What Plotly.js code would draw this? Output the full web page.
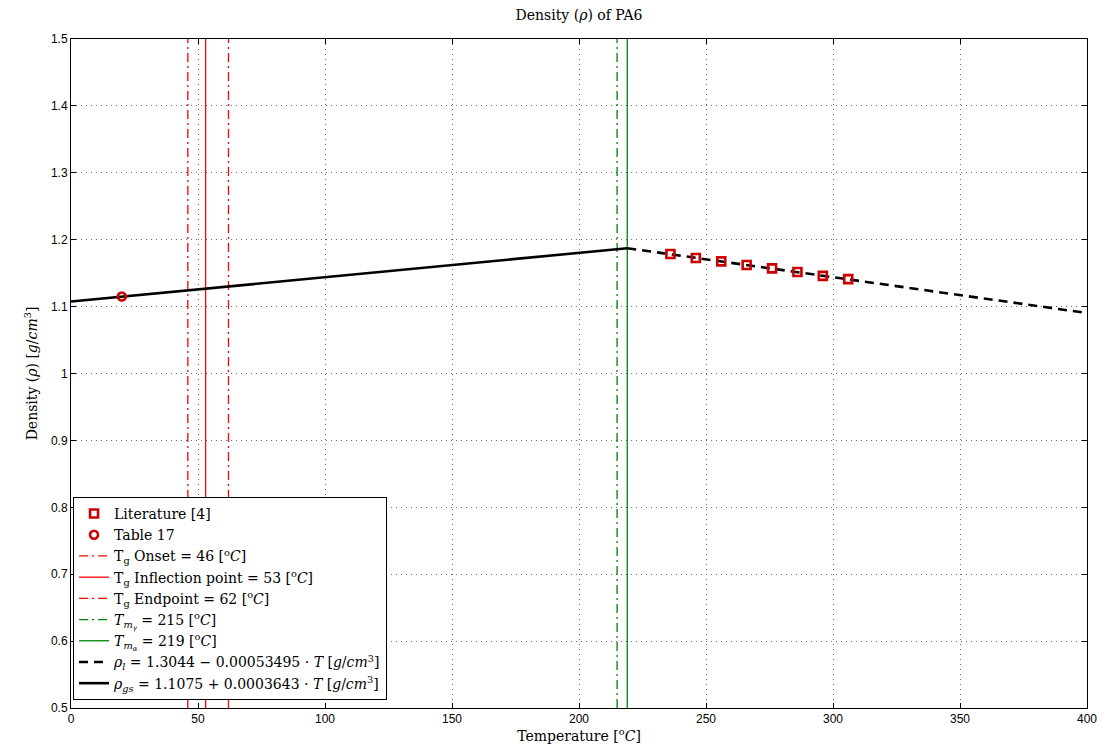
<!DOCTYPE html>
<html>
<head>
<meta charset="utf-8">
<script src="https://cdn.plot.ly/plotly-3.0.1.min.js"></script>
<style>html,body{margin:0;padding:0;background:#fff;}#chart{width:1108px;height:749px;}</style>
</head>
<body>
<div id="chart"></div>
<script>
// Data
const literatureT = [236, 246, 256, 266, 276, 286, 296, 306];
const literatureRho = [1.1786, 1.1726, 1.1676, 1.1622, 1.1572, 1.1517, 1.1460, 1.1410];
const tableT = [20];
const tableRho = [1.115];
const liquidT = [219, 400];
const liquidRho = [1.1873, 1.0904];
const glassyT = [0, 219];
const glassyRho = [1.1075, 1.1873];
const tgOnset = 46, tgInflection = 53, tgEndpoint = 62, tmGamma = 215, tmAlpha = 219;
const yRange = [0.5, 1.5];
const xTicks = [0, 50, 100, 150, 200, 250, 300, 350, 400];
const yTicks = [0.5, 0.6, 0.7, 0.8, 0.9, 1, 1.1, 1.2, 1.3, 1.4, 1.5];

const red = 'rgb(255,0,0)';
const green = 'rgb(0,128,0)';
const markRed = 'rgb(204,0,0)';
const dashDot = '9px,4px,2px,4px';

function vline(x, color, dash, name, rank) {
  return {x: [x, x], y: yRange, mode: 'lines', name: name, legendrank: rank,
    line: {color: color, width: 1.3, dash: dash}, hoverinfo: 'skip'};
}

const traces = [
  vline(tgOnset, red, dashDot, 'T<sub>g</sub> Onset = 46 [<sup>o</sup><i>C</i>]', 3),
  vline(tgInflection, red, 'solid', 'T<sub>g</sub> Inflection point = 53 [<sup>o</sup><i>C</i>]', 4),
  vline(tgEndpoint, red, dashDot, 'T<sub>g</sub> Endpoint = 62 [<sup>o</sup><i>C</i>]', 5),
  vline(tmGamma, green, dashDot, '<i>T<sub>m<sub>γ</sub></sub></i> = 215 [<sup>o</sup><i>C</i>]', 6),
  vline(tmAlpha, green, 'solid', '<i>T<sub>m<sub>α</sub></sub></i> = 219 [<sup>o</sup><i>C</i>]', 7),
  {x: liquidT, y: liquidRho, mode: 'lines', legendrank: 8,
   name: '<i>ρ<sub>l</sub></i> = 1.3044 − 0.00053495 · <i>T</i> [<i>g</i>/<i>cm</i><sup>3</sup>]',
   line: {color: 'black', width: 2.6, dash: '9px,6px'}},
  {x: glassyT, y: glassyRho, mode: 'lines', legendrank: 9,
   name: '<i>ρ<sub>gs</sub></i> = 1.1075 + 0.0003643 · <i>T</i> [<i>g</i>/<i>cm</i><sup>3</sup>]',
   line: {color: 'black', width: 2.6}},
  {x: literatureT, y: literatureRho, mode: 'markers', name: 'Literature [4]', legendrank: 1,
   marker: {symbol: 'square-open', size: 8, color: markRed, line: {width: 2.6, color: markRed}}},
  {x: tableT, y: tableRho, mode: 'markers', name: 'Table 17', legendrank: 2,
   marker: {symbol: 'circle-open', size: 8, color: markRed, line: {width: 2.6, color: markRed}}}
];

const axisCommon = {
  showline: true, linecolor: 'black', linewidth: 1, mirror: 'ticks',
  ticks: 'inside', ticklen: 5, tickcolor: 'black', tickwidth: 1,
  showgrid: true, gridcolor: 'rgb(110,110,110)', griddash: '1px,4px', gridwidth: 1,
  zeroline: false,
  tickfont: {family: 'Liberation Sans, Arial, sans-serif', size: 12, color: 'black'}
};

const layout = {
  width: 1108, height: 749,
  margin: {l: 71, r: 21, t: 39, b: 41},
  paper_bgcolor: 'white', plot_bgcolor: 'white',
  showlegend: true,
  title: {text: 'Density (<i>ρ</i>) of PA6', x: 0.5, xanchor: 'center', xref: 'paper',
    y: 1, yref: 'container', yanchor: 'top', pad: {t: 10},
    font: {family: 'DejaVu Serif, Liberation Serif, serif', size: 14, color: 'black'}},
  xaxis: Object.assign({}, axisCommon, {
    range: [0, 400], tickvals: xTicks, ticktext: xTicks.map(String),
    title: {text: 'Temperature [<sup>o</sup><i>C</i>]', standoff: 4,
      font: {family: 'DejaVu Serif, Liberation Serif, serif', size: 14, color: 'black'}}
  }),
  yaxis: Object.assign({}, axisCommon, {
    range: yRange, tickvals: yTicks, ticktext: yTicks.map(String),
    title: {text: 'Density (<i>ρ</i>) [<i>g</i>/<i>cm</i><sup>3</sup>]', standoff: 10,
      font: {family: 'DejaVu Serif, Liberation Serif, serif', size: 14, color: 'black'}}
  }),
  legend: {x: 0.002, y: 0.012, xanchor: 'left', yanchor: 'bottom',
    bgcolor: 'white', bordercolor: 'black', borderwidth: 1,
    font: {family: 'DejaVu Serif, Liberation Serif, serif', size: 14, color: 'black'},
    tracegroupgap: 0, traceorder: 'normal'}
};

Plotly.newPlot('chart', traces, layout, {displayModeBar: false, staticPlot: true});
</script>
</body>
</html>
